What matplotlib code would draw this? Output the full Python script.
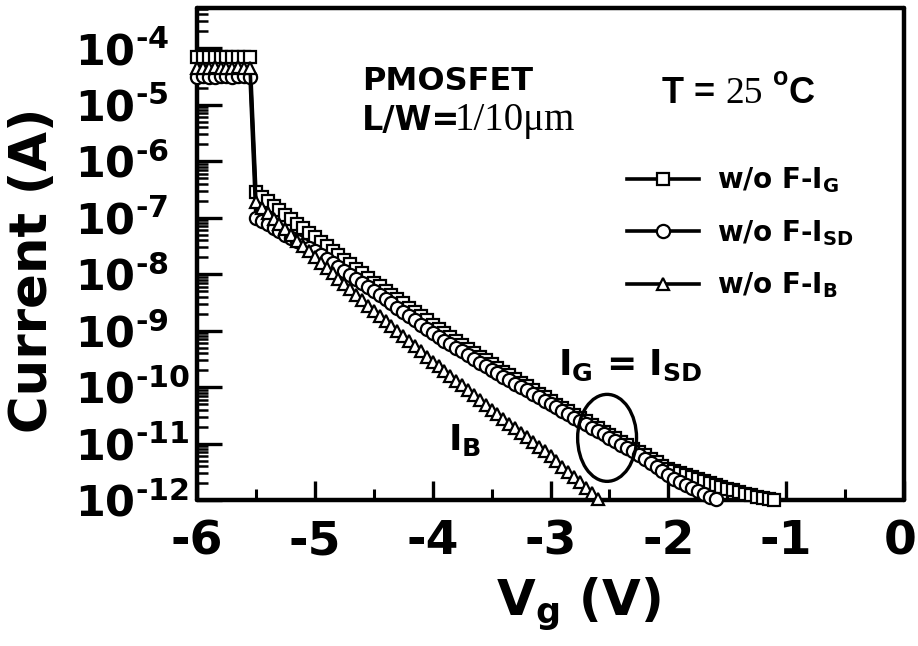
import numpy as np
import matplotlib
matplotlib.use('Agg')
import matplotlib.pyplot as plt
from matplotlib.ticker import FixedLocator, FixedFormatter, MultipleLocator, LogLocator, NullFormatter
from matplotlib.patches import Ellipse
from matplotlib.transforms import ScaledTranslation

plt.rcParams['font.family'] = ['DejaVu Sans']
plt.rcParams['font.weight'] = 'bold'
plt.rcParams['mathtext.fontset'] = 'custom'
plt.rcParams['mathtext.rm'] = 'Liberation Serif'
plt.rcParams['mathtext.bf'] = 'DejaVu Sans:bold'
plt.rcParams['mathtext.it'] = 'DejaVu Sans:bold'
plt.rcParams['mathtext.sf'] = 'DejaVu Sans:bold'
plt.rcParams['axes.unicode_minus'] = False

# ---------------- data (log10 of current in A) ----------------
# gate-voltage sweep grid of the measurement (0.05 V step)
vg_sweep = np.round(np.arange(-6.0, -1.075, 0.05), 2)

# saturated region, Vg = -6.00 ... -5.55
ig_sat = [-4.16, -4.16, -4.16, -4.16, -4.16, -4.16, -4.16, -4.16, -4.16, -4.16]
isd_sat = [-4.51, -4.50, -4.52, -4.51, -4.49, -4.50, -4.52, -4.50, -4.49, -4.51]
ib_sat = [-4.36, -4.35, -4.36, -4.34, -4.35, -4.36, -4.35, -4.34, -4.36, -4.35]

# sub-threshold region, from Vg = -5.50 upward
ig_sub = [-6.55, -6.63, -6.71, -6.79, -6.87, -6.95, -7.03, -7.11, -7.19, -7.27,
          -7.35, -7.43, -7.51, -7.59, -7.67, -7.75, -7.83, -7.91, -7.99, -8.07,
          -8.15, -8.22, -8.30, -8.37, -8.45, -8.52, -8.60, -8.67, -8.75, -8.82,
          -8.90, -8.97, -9.04, -9.11, -9.18, -9.25, -9.32, -9.39, -9.46, -9.53,
          -9.60, -9.66, -9.73, -9.79, -9.86, -9.92, -9.99, -10.05, -10.12, -10.18,
          -10.25, -10.31, -10.37, -10.43, -10.49, -10.55, -10.61, -10.67, -10.73, -10.79,
          -10.85, -10.91, -10.97, -11.03, -11.09, -11.15, -11.21, -11.27, -11.33, -11.39,
          -11.45, -11.49, -11.52, -11.56, -11.59, -11.63, -11.66, -11.70, -11.73, -11.77,
          -11.80, -11.83, -11.86, -11.89, -11.92, -11.94, -11.96, -11.98, -12.00]
isd_sub = [-7.00, -7.06, -7.12, -7.18, -7.24, -7.30, -7.36, -7.42, -7.48, -7.54,
           -7.60, -7.67, -7.74, -7.81, -7.88, -7.95, -8.02, -8.09, -8.16, -8.23,
           -8.30, -8.37, -8.45, -8.52, -8.60, -8.67, -8.75, -8.82, -8.90, -8.97,
           -9.05, -9.11, -9.18, -9.24, -9.31, -9.37, -9.44, -9.50, -9.57, -9.63,
           -9.70, -9.76, -9.82, -9.88, -9.94, -10.00, -10.06, -10.12, -10.18, -10.24,
           -10.30, -10.36, -10.42, -10.48, -10.54, -10.60, -10.66, -10.72, -10.78, -10.84,
           -10.90, -10.96, -11.02, -11.08, -11.14, -11.21, -11.28, -11.35, -11.42, -11.49,
           -11.56, -11.62, -11.68, -11.74, -11.79, -11.84, -11.89, -11.94, -11.99]
ib_sub = [-6.73, -6.83, -6.92, -7.02, -7.12, -7.21, -7.31, -7.41, -7.51, -7.60,
          -7.70, -7.80, -7.89, -7.99, -8.08, -8.18, -8.27, -8.37, -8.46, -8.56,
          -8.65, -8.74, -8.83, -8.92, -9.01, -9.10, -9.19, -9.28, -9.37, -9.46,
          -9.55, -9.63, -9.72, -9.80, -9.89, -9.97, -10.06, -10.14, -10.23, -10.31,
          -10.40, -10.48, -10.56, -10.65, -10.73, -10.81, -10.89, -10.97, -11.06, -11.14,
          -11.22, -11.31, -11.41, -11.50, -11.60, -11.69, -11.79, -11.88, -11.98]

series_labels = ['w/o F-I$_\\mathbf{G}$', 'w/o F-I$_\\mathbf{SD}$', 'w/o F-I$_\\mathbf{B}$']
x_ticks = [-6, -5, -4, -3, -2, -1, 0]
x_tick_labels = ['-6', '-5', '-4', '-3', '-2', '-1', '0']
y_exponents = [-12, -11, -10, -9, -8, -7, -6, -5, -4]

# ---------------- figure ----------------
fig = plt.figure(figsize=(9.18, 6.46), dpi=100)
ax = fig.add_axes([0.2146, 0.226, 0.7702, 0.7616])
ax.set_yscale('log')
ax.set_xlim(-6, 0)
ax.set_ylim(1e-12, 10 ** -3.29)

def curve(sat, sub):
    logs = np.array(sat + sub)
    return vg_sweep[:len(logs)], 10.0 ** logs

common = dict(color='black', lw=2.6, mfc='white', mec='black', mew=1.6,
              clip_on=False, zorder=3)
x, y = curve(ig_sat, ig_sub)
l_g, = ax.plot(x, y, marker='s', ms=8.3, **common)
x, y = curve(isd_sat, isd_sub)
l_sd, = ax.plot(x, y, marker='o', ms=9.5, **common)
x, y = curve(ib_sat, ib_sub)
l_b, = ax.plot(x, y, marker='^', ms=9, **common)

# spines
for s in ax.spines.values():
    s.set_linewidth(3.2)
    s.set_capstyle('round')

# ticks
hy = '\u2010'
ax.xaxis.set_major_locator(FixedLocator(x_ticks))
ax.xaxis.set_major_formatter(FixedFormatter(x_tick_labels))
ax.xaxis.set_minor_locator(MultipleLocator(0.5))
ax.yaxis.set_major_locator(FixedLocator([10.0 ** e for e in y_exponents]))
ax.yaxis.set_major_formatter(FixedFormatter(
    [r'$\mathbf{10^{%s%d}}$' % (hy, -e) for e in y_exponents]))
ax.yaxis.set_minor_locator(LogLocator(base=10, subs=np.arange(2, 10), numticks=40))
ax.yaxis.set_minor_formatter(NullFormatter())
ax.tick_params(axis='x', which='major', direction='in', length=14, width=2.4,
               pad=14, labelsize=34, top=False)
ax.tick_params(axis='x', which='minor', direction='in', length=8, width=2.2, top=False)
ax.tick_params(axis='y', which='major', direction='in', length=18, width=2.4,
               pad=88, labelsize=31, right=False)
ax.tick_params(axis='y', which='minor', direction='in', length=8, width=1.8, right=False)

ax.set_xlabel('V$_\\mathbf{g}$ (V)', fontsize=36, fontweight='bold')
ax.set_ylabel('Current (A)', fontsize=37, fontweight='bold')
ax.xaxis.set_label_coords(0.539, -0.155)
ax.yaxis.set_label_coords(-0.197, 0.4675)

# legend
ax.legend(handles=[l_g, l_sd, l_b], labels=series_labels, loc='center left',
          bbox_to_anchor=(0.608, 0.543), frameon=False, borderpad=0,
          borderaxespad=0, handlelength=2.6, handletextpad=0.65,
          labelspacing=0.82, prop={'size': 20, 'weight': 'bold'})

# annotations
def axfrac(px, py):
    return (px - 197) / 707, (500 - py) / 492

ax.text(*axfrac(362, 90), 'PMOSFET', transform=ax.transAxes, fontsize=23,
        fontweight='bold', va='baseline', ha='left')
ax.text(*axfrac(362, 130), 'L/W=', transform=ax.transAxes,
        fontsize=24, fontweight='bold', va='baseline', ha='left')
ax.text(*axfrac(455, 130), '1/10\u03bcm', transform=ax.transAxes,
        fontsize=28, family='Liberation Serif', fontweight='normal',
        va='baseline', ha='left')
ax.text(*axfrac(662, 103), 'T =', transform=ax.transAxes, fontsize=26,
        family='Liberation Sans', fontweight='bold', va='baseline', ha='left')
ax.text(*axfrac(725, 103), '25', transform=ax.transAxes, fontsize=27,
        family='Liberation Serif', fontweight='normal', va='baseline', ha='left')
ax.text(*axfrac(773, 85), 'o', transform=ax.transAxes, fontsize=18,
        family='Liberation Sans', fontweight='bold', va='baseline', ha='left')
ax.text(*axfrac(788, 103), 'C', transform=ax.transAxes, fontsize=26,
        family='Liberation Sans', fontweight='bold', va='baseline', ha='left')
ax.text(*axfrac(558, 375), 'I$_\\mathbf{G}$ = I$_\\mathbf{SD}$', transform=ax.transAxes,
        fontsize=26, fontweight='bold', va='baseline', ha='left')
ax.text(*axfrac(448, 450), 'I$_\\mathbf{B}$', transform=ax.transAxes,
        fontsize=26, fontweight='bold', va='baseline', ha='left')

# ellipse marking I_G = I_SD region (in Vg, log10 I coordinates)
ell = Ellipse((-2.52, -10.9), width=0.5, height=1.54, fill=False,
              edgecolor='black', lw=2.4, transform=ax.transLimits + ax.transAxes,
              zorder=4)
ax.add_patch(ell)

fig.canvas.draw()
for t in ax.yaxis.get_major_ticks():
    t.label1.set_horizontalalignment('left')
last = ax.xaxis.get_major_ticks()[-1].label1
last.set_transform(last.get_transform() + ScaledTranslation(-3 / 72, 0, fig.dpi_scale_trans))

fig.savefig('out.png', dpi=100)
